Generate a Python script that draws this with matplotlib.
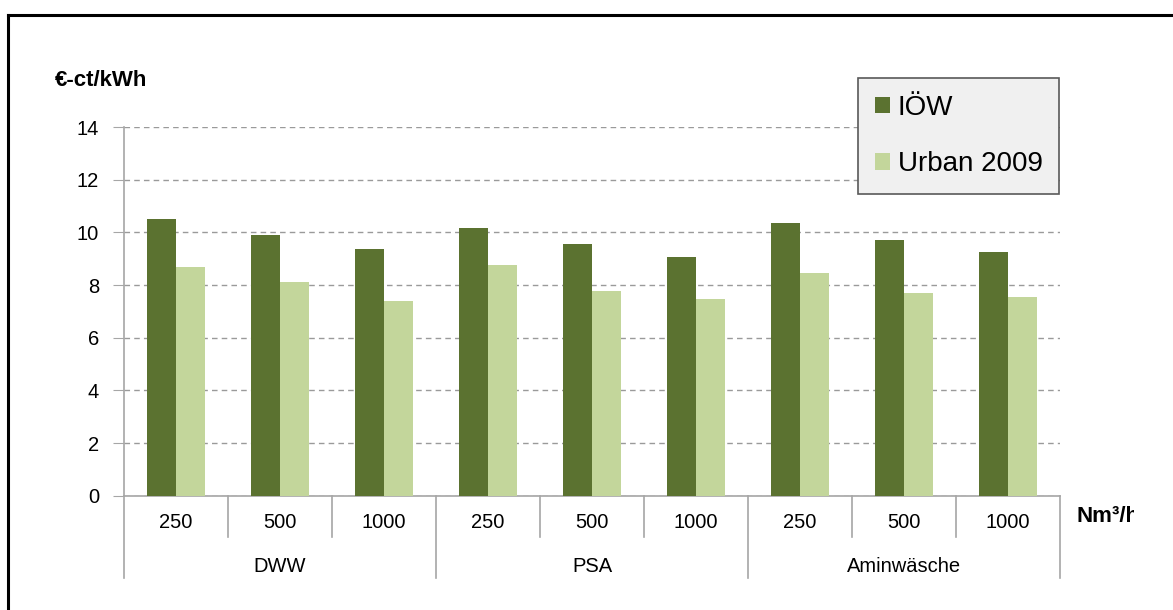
import numpy as np
import matplotlib
matplotlib.use("Agg")
import matplotlib.pyplot as plt
from matplotlib.lines import Line2D
from matplotlib.patches import Rectangle
from matplotlib.transforms import blended_transform_factory

plt.rcParams['font.family'] = ['Liberation Sans', 'DejaVu Sans']

# --- Daten ---
anlagengroesse = ['250', '500', '1000', '250', '500', '1000', '250', '500', '1000']
verfahren = ['DWW', 'PSA', 'Aminwäsche']
kosten_ioew = [10.52, 9.89, 9.37, 10.18, 9.56, 9.06, 10.36, 9.71, 9.25]
kosten_urban = [8.68, 8.13, 7.40, 8.77, 7.79, 7.48, 8.47, 7.71, 7.56]
serien = ['IÖW', 'Urban 2009']

farbe_dunkel = '#5b7230'
farbe_hell = '#c3d69b'
grau = '#a6a6a6'
fs = 14.5

W, H = 1173, 610
fig = plt.figure(figsize=(W / 100, H / 100), dpi=100)
ax = fig.add_axes([124 / W, 1 - 495.7 / H, 936 / W, 368.7 / H])

x = np.arange(len(anlagengroesse))
b = 0.28
ax.bar(x - b / 2, kosten_ioew, b, color=farbe_dunkel, label=serien[0], zorder=3)
ax.bar(x + b / 2, kosten_urban, b, color=farbe_hell, label=serien[1], zorder=3)

ax.set_xlim(-0.5, len(x) - 0.5)
ax.set_ylim(0, 14)
ax.set_yticks(np.arange(0, 15, 2))
ax.tick_params(axis='y', labelsize=fs, length=8, color=grau, pad=10)
ax.set_xticks([])
ax.yaxis.grid(True, linestyle=(0, (4, 3)), color='#9a9a9a', linewidth=1.0, zorder=0)
for s in ['top', 'right']:
    ax.spines[s].set_visible(False)
ax.spines['left'].set_color(grau)
ax.spines['bottom'].set_color(grau)
ax.spines['left'].set_linewidth(1.2)
ax.spines['bottom'].set_linewidth(1.2)

# Kategorieachse mit zwei Ebenen
tr = blended_transform_factory(ax.transData, ax.transAxes)
for i, lab in enumerate(anlagengroesse):
    ax.text(i, -0.074, lab, transform=tr, ha='center', va='center', fontsize=fs)
for k in range(len(x) + 1):
    unten = -0.223 if k % 3 == 0 else -0.112
    ax.add_line(Line2D([k - 0.5, k - 0.5], [0, unten], transform=tr, color=grau,
                       linewidth=1.2, clip_on=False))
for j, name in enumerate(verfahren):
    ax.text(3 * j + 1, -0.193, name, transform=tr, ha='center', va='center', fontsize=fs)

fig.text(55 / W, 1 - 81 / H, '€-ct/kWh', fontsize=16, fontweight='bold', va='center')
t = fig.text(1076 / W, 1 - 516 / H, 'Nm³/h', fontsize=16, fontweight='bold', va='center',
             clip_on=True)
t.set_clip_path(Rectangle((0, 0), 1134 / W, 1, transform=fig.transFigure))

leg = ax.legend(loc='upper left', bbox_to_anchor=(858 / W, 1 - 78 / H),
                bbox_transform=fig.transFigure, fontsize=20, frameon=True, fancybox=False,
                handlelength=0.54, handleheight=0.54, handletextpad=0.29, labelspacing=1.1,
                borderpad=0.6, borderaxespad=0)
leg.get_frame().set_facecolor('#f0f0f0')
leg.get_frame().set_edgecolor('#595959')
leg.get_frame().set_linewidth(1.2)
leg.get_frame().set_alpha(1)

# Rahmen oben und links
fig.add_artist(Line2D([8 / W, 1], [1 - 15 / H, 1 - 15 / H], transform=fig.transFigure,
                      color='black', linewidth=2.2))
fig.add_artist(Line2D([8 / W, 8 / W], [0, 1 - 15 / H], transform=fig.transFigure,
                      color='black', linewidth=2.2))

fig.savefig('out.png', dpi=100)
